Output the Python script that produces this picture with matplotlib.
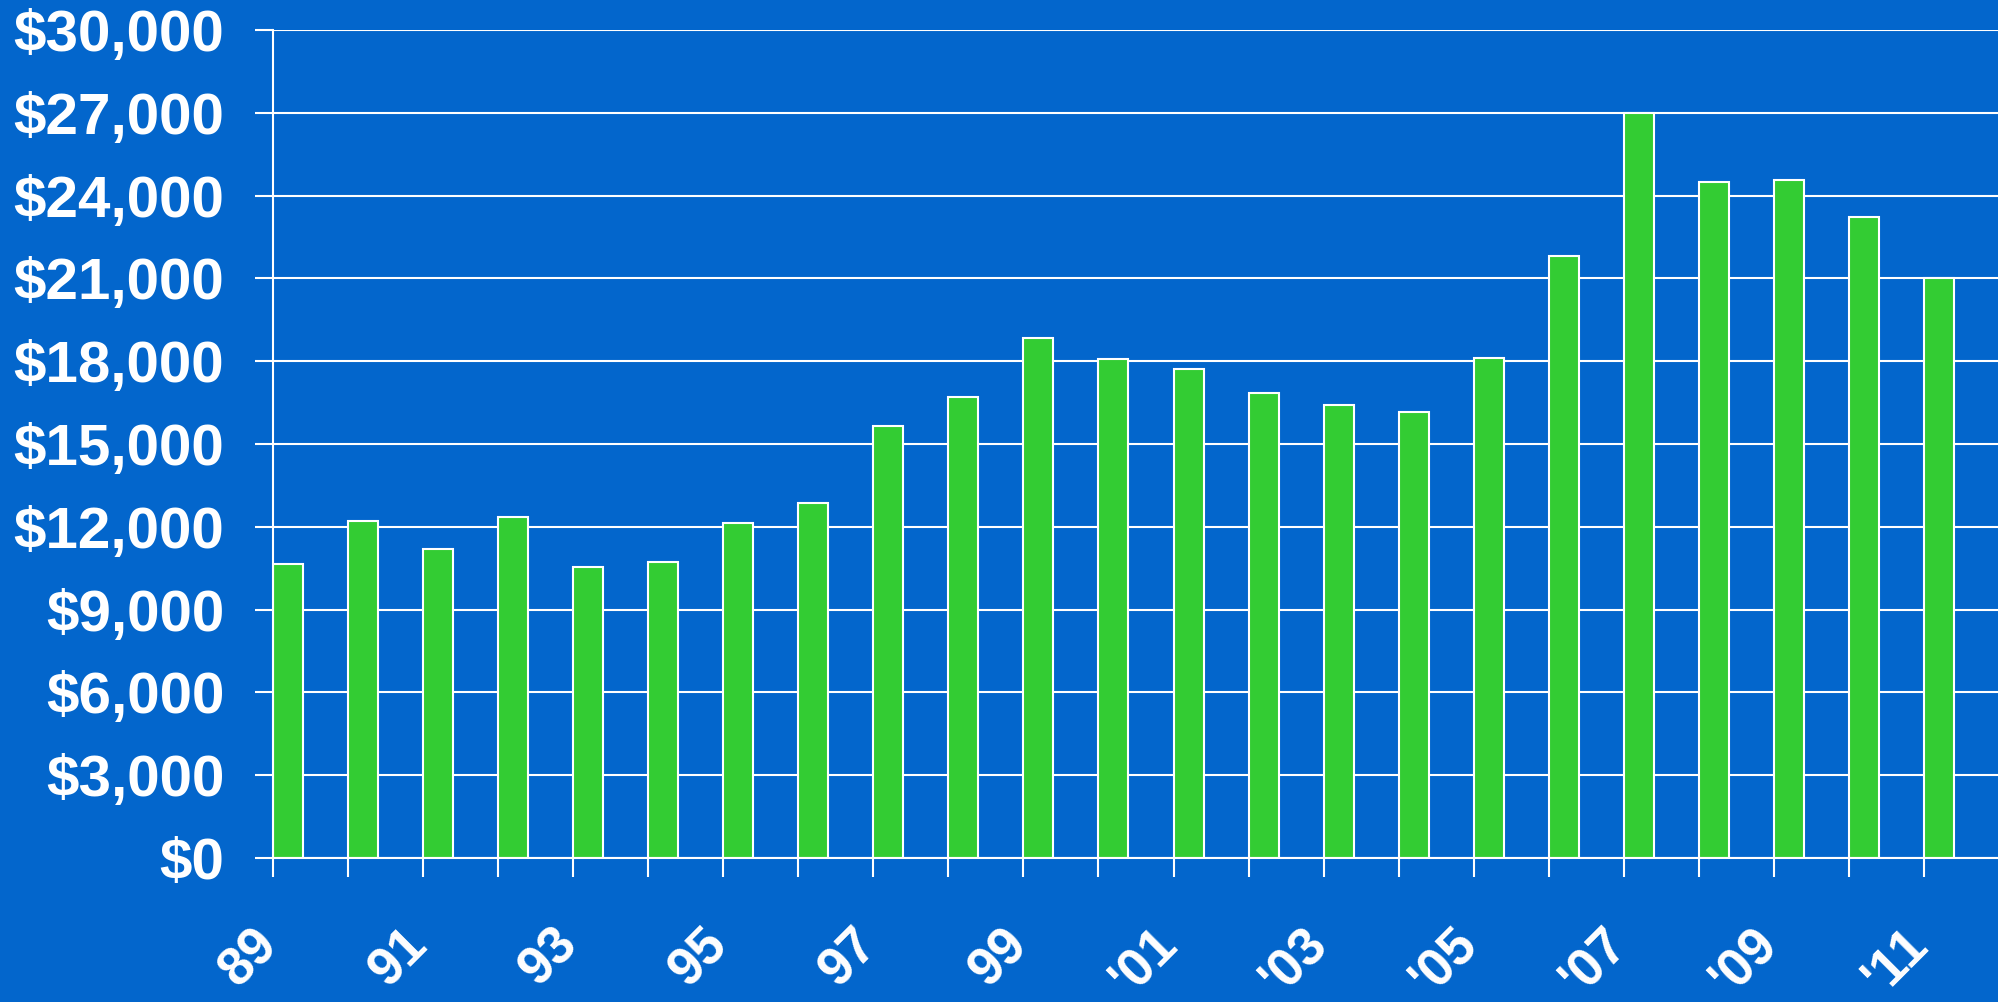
import matplotlib
matplotlib.use("Agg")
import matplotlib.pyplot as plt
from matplotlib.transforms import ScaledTranslation
from matplotlib.ticker import FuncFormatter

years = ["89", "90", "91", "92", "93", "94", "95", "96", "97", "98", "99",
         "'00", "'01", "'02", "'03", "'04", "'05", "'06", "'07", "'08", "'09", "'10", "'11"]
values = [10640, 12200, 11190, 12340, 10550, 10720, 12150, 12850, 15650, 16700, 18850,
          18070, 17710, 16850, 16430, 16150, 18130, 21800, 27000, 24510, 24580, 23230, 21010]
yticks = [0, 3000, 6000, 9000, 12000, 15000, 18000, 21000, 24000, 27000, 30000]

BG = "#0366CC"
GREEN = "#33CC33"
WHITE = "#FFFFFF"

plt.rcParams['font.family'] = ['Liberation Sans', 'DejaVu Sans']
plt.rcParams['font.weight'] = 'bold'

fig = plt.figure(figsize=(19.99, 10.02), dpi=100, facecolor=BG)
ax = fig.add_axes([273/1999, 1 - 858/1002, 1 - 273/1999, (858 - 30)/1002])
ax.set_facecolor(BG)

x = list(range(len(values)))
ax.bar(x, values, width=0.4, align='edge', color=GREEN, edgecolor=WHITE,
       linewidth=1.5, zorder=3)

ax.set_xlim(0, len(values))
ax.set_ylim(0, 30000)
ax.set_yticks(yticks)
ax.yaxis.set_major_formatter(FuncFormatter(lambda v, p: "${:,.0f}".format(v)))
ax.grid(axis='y', color=WHITE, linewidth=1.5, zorder=1)
ax.set_axisbelow(True)

ax.set_xticks(x)
ax.set_xticklabels([y if i % 2 == 0 else "" for i, y in enumerate(years)])

for s in ['top', 'right']:
    ax.spines[s].set_visible(False)
for s in ['left', 'bottom']:
    ax.spines[s].set_color(WHITE)
    ax.spines[s].set_linewidth(1.5)
    ax.spines[s].set_zorder(4)

ax.tick_params(axis='y', direction='out', length=13, width=1.5, color=WHITE,
               labelcolor=WHITE, labelsize=42, pad=22)
ax.tick_params(axis='x', direction='out', length=14, width=1.5, color=WHITE,
               labelcolor=WHITE, labelsize=38, pad=30)

offset = ScaledTranslation(14/100, 0, fig.dpi_scale_trans)
for lab in ax.get_xticklabels():
    lab.set_rotation(45)
    lab.set_ha('right')
    lab.set_va('top')
    lab.set_fontweight('bold')
    lab.set_transform(lab.get_transform() + offset)
for lab in ax.get_yticklabels():
    lab.set_fontweight('bold')

fig.savefig("out.png", dpi=100, facecolor=BG)
